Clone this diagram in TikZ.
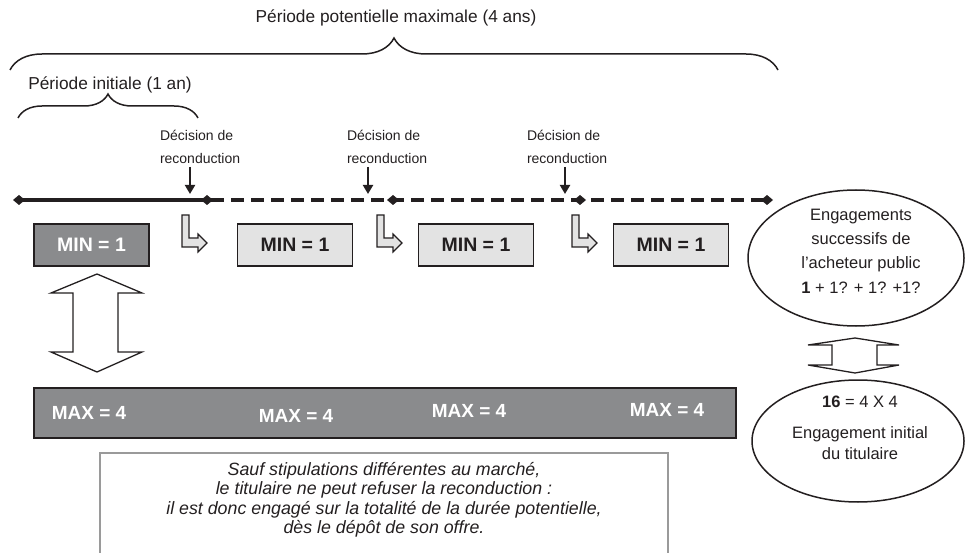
\documentclass[tikz,border=0pt]{standalone}
\usepackage{fontspec}
\setmainfont{Liberation Sans}
\usetikzlibrary{decorations.pathreplacing,shapes.geometric,arrows.meta}
\definecolor{darkbox}{HTML}{8A8B8D}
\definecolor{lightbox}{HTML}{E3E3E3}
\definecolor{framegray}{HTML}{9A9A9A}
\definecolor{txt}{HTML}{231F20}
\tikzset{
  every node/.style={inner sep=0pt, outer sep=0pt, text=txt},
  biglabel/.style={font=\fontsize{17.3}{20}\selectfont},
  declabel/.style={font=\fontsize{14}{16}\selectfont, anchor=west},
  minbox/.style={draw=txt, line width=1.5pt, minimum width=115pt, minimum height=42pt, font=\bfseries\fontsize{19.5}{21}\selectfont},
  mindark/.style={minbox, fill=darkbox, text=white},
  minlight/.style={minbox, fill=lightbox},
  maxtext/.style={text=white, font=\bfseries\fontsize{19}{21}\selectfont},
  bracestyle/.style={line width=1.5pt, txt, decorate},
  timeline/.style={line width=4pt, txt},
  dot/.style={diamond, fill=txt, minimum width=12pt, minimum height=10pt},
  decarrow/.style={line width=2pt, txt, -{Triangle[length=9pt,width=10pt]}},
  bent/.style={draw=txt, fill=lightbox, line width=1.1pt, line join=miter},
  dblarrow/.style={draw=txt, fill=white, line width=1.3pt, line join=miter},
  ell/.style={ellipse, draw=txt, line width=1.5pt},
  elltext/.style={align=center, font=\fontsize{16.5}{24}\selectfont}
}
\begin{document}
\begin{tikzpicture}[x=1pt,y=-1pt]
\useasboundingbox (0,0) rectangle (966,553);

% top labels and braces
\node[biglabel] (ptop) at (396,18) {Période potentielle maximale (4 ans)};
\coordinate (bl) at (10,70);
\coordinate (br) at (778,70);
\draw[bracestyle, decoration={brace, amplitude=32pt}] (bl) -- (br);
\node[biglabel] (pinit) at (110,85) {Période initiale (1 an)};
\coordinate (sl) at (18,118);
\coordinate (sr) at (198,118);
\draw[bracestyle, decoration={brace, amplitude=24pt}] (sl) -- (sr);

% decision labels
\foreach \i/\x in {1/160,2/347,3/527}{
  \node[declabel] (dd\i) at (\x,135) {Décision de};
  \node[declabel] (dr\i) at (\x,158) {reconduction};
}
\coordinate (a1) at (190,167); \coordinate (b1) at (190,194);
\coordinate (a2) at (368,167); \coordinate (b2) at (368,194);
\coordinate (a3) at (565,167); \coordinate (b3) at (565,194);
\draw[decarrow] (a1) -- (b1);
\draw[decarrow] (a2) -- (b2);
\draw[decarrow] (a3) -- (b3);

% timeline
\node[dot] (d0) at (19,200) {};
\node[dot] (d1) at (207,200) {};
\node[dot] (d2) at (393,200) {};
\node[dot] (d3) at (580,200) {};
\node[dot] (d4) at (767,200) {};
\draw[timeline] (d0.center) -- (d1.center);
\draw[timeline, dash pattern=on 13pt off 7pt, dash phase=-4pt] (d1.center) -- (d4.center);

% MIN boxes
\node[mindark] (m1) at (91.5,245) {MIN = 1};
\node[minlight] (m2) at (295,245) {MIN = 1};
\node[minlight] (m3) at (476,245) {MIN = 1};
\node[minlight] (m4) at (671,245) {MIN = 1};

% bent arrows
\foreach \x in {182,377,572}{
  \draw[bent, shift={(\x,215)}] (0,0) -- (7,0) -- (7,23) -- (16,23) -- (16,19) -- (25,28) -- (16,37) -- (16,32) -- (0,32) -- cycle;
}

% left double arrow
\draw[dblarrow] (97,274) -- (142,293) -- (118,293) -- (118,352) -- (142,352) -- (97,372)
  -- (51,352) -- (73,352) -- (73,293) -- (51,293) -- cycle;

% MAX bar
\node[draw=txt, fill=darkbox, line width=2pt, minimum width=702pt, minimum height=50pt] (maxbar) at (385,413) {};
\node[maxtext] (x1) at (89,413) {MAX = 4};
\node[maxtext] (x2) at (296,416) {MAX = 4};
\node[maxtext] (x3) at (469,411) {MAX = 4};
\node[maxtext] (x4) at (667,410) {MAX = 4};

% note box
\draw[framegray, line width=1.5pt] (100,553) -- (100,453) -- (668,453) -- (668,553);
\node[align=center, font=\itshape\fontsize{17.8}{19.5}\selectfont, anchor=north] (note) at (384,462)
  {Sauf stipulations différentes au marché,\\
   le titulaire ne peut refuser la reconduction :\\
   il est donc engagé sur la totalité de la durée potentielle,\\
   dès le dépôt de son offre.};

% ellipses
\node[ell, minimum width=216pt, minimum height=136pt] (e1) at (856,258) {};
\node[elltext] (e1t) at (861,251) {Engagements\\successifs de\\l’acheteur public\\[1pt]\textbf{1} + 1? + 1? +1?};
\draw[dblarrow] (855,338) -- (899,345) -- (877,345) -- (877,365) -- (899,365) -- (855,373)
  -- (808,365) -- (832,365) -- (832,345) -- (808,345) -- cycle;
\node[ell, minimum width=212pt, minimum height=122pt] (e2) at (858,441) {};
\node[elltext, font=\fontsize{16.5}{21}\selectfont] (e2t) at (860,428) {\textbf{16} = 4 X 4\\[10pt]Engagement initial\\du titulaire};
\end{tikzpicture}
\end{document}
